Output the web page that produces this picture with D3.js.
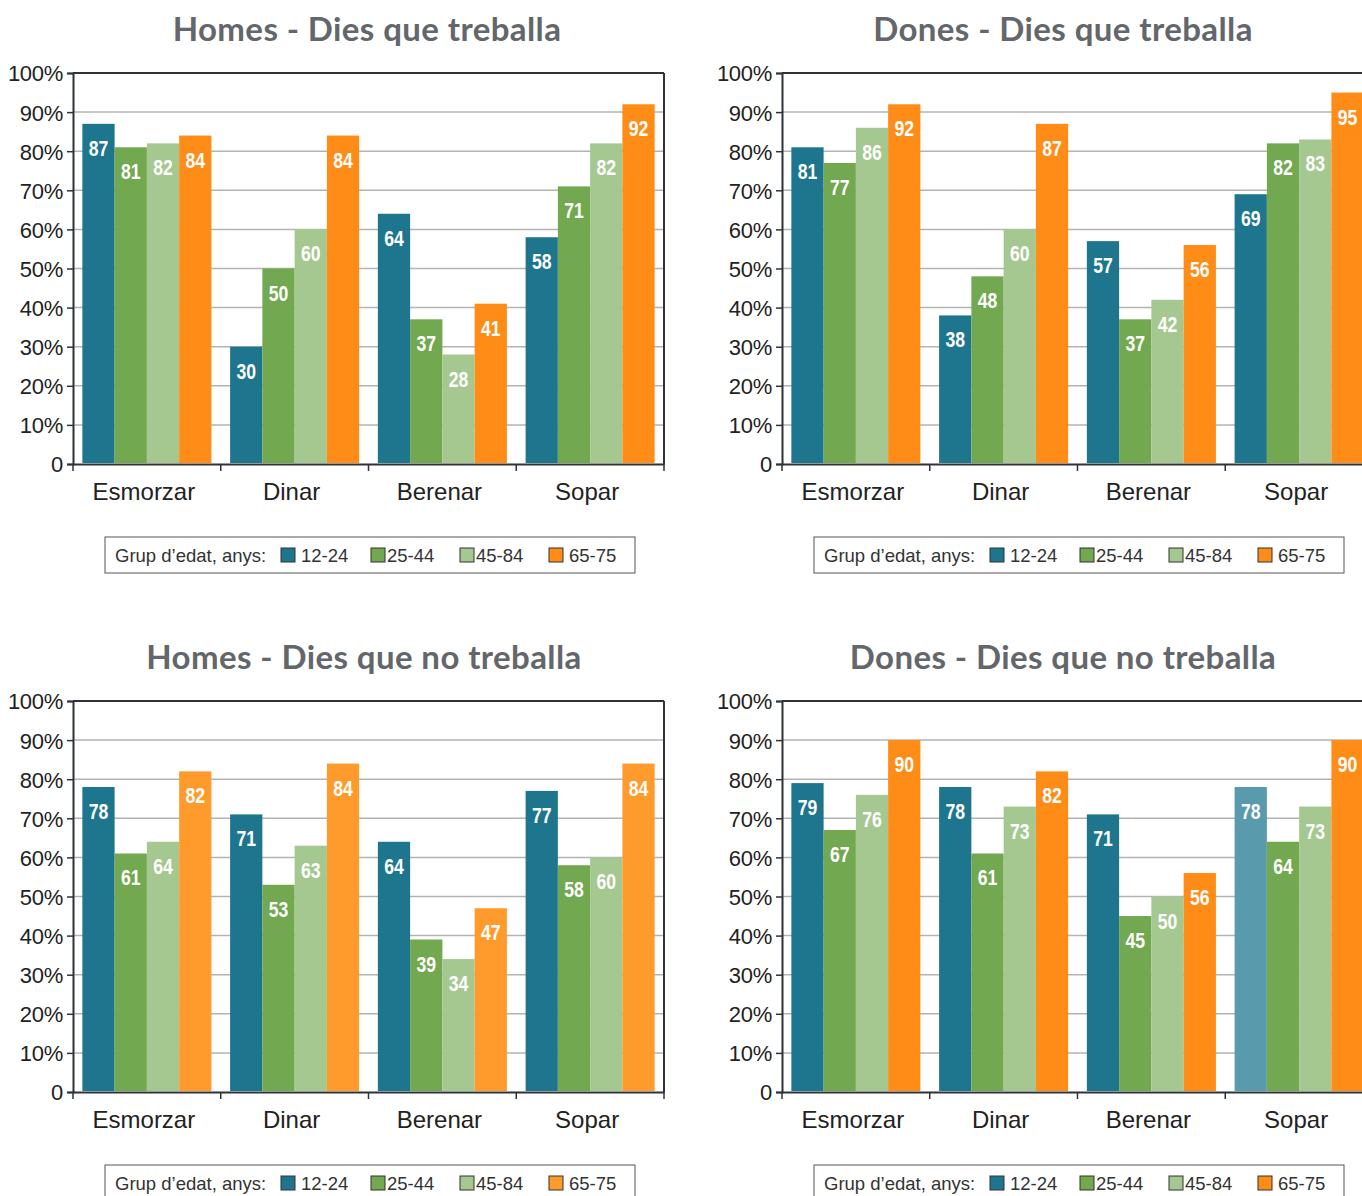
<!DOCTYPE html>
<html><head><meta charset="utf-8">
<script src="https://cdn.jsdelivr.net/npm/d3@7"></script>
<style>
html,body{margin:0;padding:0;background:#fff;}
svg{display:block;}
</style></head>
<body>
<svg id="chart" width="1362" height="1196"></svg>
<script>
const categories = ["Esmorzar", "Dinar", "Berenar", "Sopar"];
const ageGroups = ["12-24", "25-44", "45-84", "65-75"];
const yTicks = [0, 10, 20, 30, 40, 50, 60, 70, 80, 90, 100];
const legendTitle = "Grup d’edat, anys:";

const titles = [
  "Homes - Dies que treballa",
  "Dones - Dies que treballa",
  "Homes - Dies que no treballa",
  "Dones - Dies que no treballa"
];

// values[category][ageGroup]
const homesTreballa = [[87, 81, 82, 84], [30, 50, 60, 84], [64, 37, 28, 41], [58, 71, 82, 92]];
const donesTreballa = [[81, 77, 86, 92], [38, 48, 60, 87], [57, 37, 42, 56], [69, 82, 83, 95]];
const homesNoTreballa = [[78, 61, 64, 82], [71, 53, 63, 84], [64, 39, 34, 47], [77, 58, 60, 84]];
const donesNoTreballa = [[79, 67, 76, 90], [78, 61, 73, 82], [71, 45, 50, 56], [78, 64, 73, 90]];

const baseColors = ["#1e758e", "#72a84f", "#a5c890", "#ff8c17"];

const panels = [
  { title: titles[0], data: homesTreballa, x0: 73, y0: 73, titleX: 367, colors: [baseColors, baseColors, baseColors, baseColors] },
  { title: titles[1], data: donesTreballa, x0: 782, y0: 73, titleX: 1063, colors: [baseColors, baseColors, baseColors, baseColors] },
  { title: titles[2], data: homesNoTreballa, x0: 73, y0: 701, titleX: 364,
    colors: [0,1,2,3].map(() => ["#1e758e", "#72a84f", "#a5c890", "#ff9b2c"]) },
  { title: titles[3], data: donesNoTreballa, x0: 782, y0: 701, titleX: 1063,
    colors: [baseColors, baseColors, baseColors, ["#5a9aad", "#72a84f", "#a5c890", "#ff8c17"]] }
];

const W = 591, H = 391;
const svg = d3.select("#chart");

panels.forEach(p => {
  const g = svg.append("g");
  const x = d3.scaleBand().domain(categories).range([p.x0, p.x0 + W]).paddingInner(0).paddingOuter(0);
  const xi = d3.scaleBand().domain(ageGroups).range([0, x.bandwidth()]).paddingInner(0).paddingOuter(0.29);
  const y = d3.scaleLinear().domain([0, 100]).range([p.y0 + H, p.y0]);

  // title
  g.append("text").attr("x", p.titleX).attr("y", p.y0 - 32)
    .attr("text-anchor", "middle")
    .style("font-family", "Lato, 'Open Sans', sans-serif").style("font-weight", "700")
    .style("font-size", "33px").style("letter-spacing", "0.4px").style("fill", "#63666a")
    .text(p.title);

  // grid
  g.append("g").selectAll("line").data(yTicks.filter(t => t > 0 && t < 100)).join("line")
    .attr("x1", p.x0).attr("x2", p.x0 + W)
    .attr("y1", d => y(d)).attr("y2", d => y(d))
    .attr("stroke", "#b3b3b3").attr("stroke-width", 1.5);

  // bars
  const grp = g.append("g").selectAll("g").data(categories).join("g")
    .attr("transform", c => `translate(${x(c)},0)`);
  grp.each(function(c, ci) {
    const vals = p.data[ci].map((v, ai) => ({ v, a: ageGroups[ai], col: p.colors[ci][ai] }));
    const sel = d3.select(this);
    sel.selectAll("rect").data(vals).join("rect")
      .attr("x", d => xi(d.a)).attr("width", xi.bandwidth())
      .attr("y", d => y(d.v)).attr("height", d => y(0) - 1 - y(d.v))
      .attr("fill", d => d.col);
    sel.selectAll("text").data(vals).join("text")
      .attr("transform", d => `translate(${xi(d.a) + xi.bandwidth() / 2},${y(d.v) + 32}) scale(0.8,1)`)
      .attr("text-anchor", "middle")
      .style("font-family", "'Liberation Sans', Arial, sans-serif")
      .style("font-weight", "700").style("font-size", "22px").style("fill", "#fff")
      .text(d => d.v);
  });

  // frame: top and right
  g.append("line").attr("x1", p.x0).attr("x2", p.x0 + W).attr("y1", p.y0).attr("y2", p.y0)
    .attr("stroke", "#2d3338").attr("stroke-width", 2);
  g.append("line").attr("x1", p.x0 + W).attr("x2", p.x0 + W).attr("y1", p.y0).attr("y2", p.y0 + H)
    .attr("stroke", "#2d3338").attr("stroke-width", 2);

  // y axis
  const yAxis = d3.axisLeft(y).tickValues(yTicks).tickSize(6).tickPadding(4)
    .tickFormat(d => d === 0 ? "0" : d + "%");
  const ya = g.append("g").attr("transform", `translate(${p.x0},0)`).call(yAxis);
  ya.select(".domain").attr("stroke", "#2d3338").attr("stroke-width", 2);
  ya.selectAll(".tick line").attr("stroke", "#2d3338").attr("stroke-width", 1.5);
  ya.selectAll(".tick text")
    .style("font-family", "'Liberation Sans', Arial, sans-serif").style("font-size", "22px")
    .style("fill", "#222").attr("dy", "0.36em").style("letter-spacing", "-0.3px");

  // x axis
  const xAxis = d3.axisBottom(x).tickSize(0).tickPadding(19);
  const xa = g.append("g").attr("transform", `translate(0,${p.y0 + H})`).call(xAxis);
  xa.select(".domain").attr("stroke", "#2d3338").attr("stroke-width", 2);
  xa.selectAll(".tick text")
    .attr("x", -3)
    .style("font-family", "'Liberation Sans', Arial, sans-serif").style("font-size", "24px")
    .style("fill", "#222");
  // boundary ticks
  const bounds = categories.map(c => x(c)).concat([p.x0 + W]);
  xa.append("g").selectAll("line").data(bounds).join("line")
    .attr("x1", d => d).attr("x2", d => d).attr("y1", 0).attr("y2", 7)
    .attr("stroke", "#2d3338").attr("stroke-width", 1.5);

  // legend
  const lx = p.x0 + 32, ly = p.y0 + H + 73;
  const lg = g.append("g").attr("transform", `translate(${lx},${ly})`);
  lg.append("rect").attr("x", 0).attr("y", 0).attr("width", 530).attr("height", 36)
    .attr("fill", "#fff").attr("stroke", "#555").attr("stroke-width", 1);
  lg.append("text").attr("x", 10).attr("y", 25)
    .style("font-family", "'Liberation Sans', Arial, sans-serif").style("font-size", "18.5px").style("fill", "#333")
    .text(legendTitle);
  const itemX = [176, 266, 355, 444];
  const legendColors = p.colors[0];
  ageGroups.forEach((a, i) => {
    lg.append("rect").attr("x", itemX[i]).attr("y", 11).attr("width", 14).attr("height", 14)
      .attr("fill", legendColors[i]).attr("stroke", "#333").attr("stroke-width", 1);
    lg.append("text").attr("x", itemX[i] + (i === 0 || i === 3 ? 20 : 16)).attr("y", 25)
      .style("font-family", "'Liberation Sans', Arial, sans-serif").style("font-size", "18.5px").style("fill", "#333")
      .text(a);
  });
});
</script>
</body></html>
